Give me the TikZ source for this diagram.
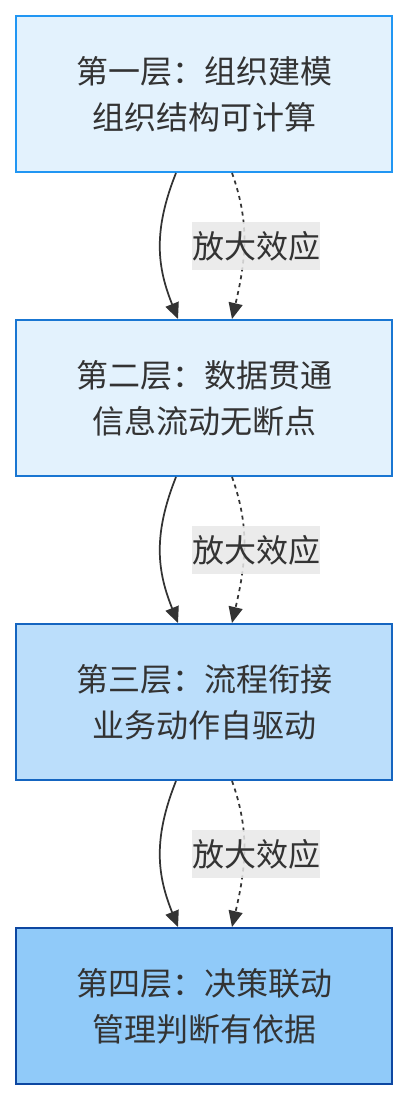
\documentclass[tikz,border=0pt]{standalone}
\usepackage{fontspec}
\setmainfont{Noto Sans CJK SC}
\usetikzlibrary{arrows.meta}

\definecolor{textgray}{HTML}{333333}
\definecolor{labelgray}{HTML}{E8E8E8}

\begin{document}
\begin{tikzpicture}[x=0.75pt,y=0.75pt,yscale=-1,xscale=1,
	layerbox/.style={draw, line width=1.5pt, minimum width=282pt, minimum height=117pt, inner sep=0pt, align=center, text=textgray, font=\fontsize{24}{34.5}\selectfont},
	solidflow/.style={draw=textgray, line width=1.3pt, -{Triangle[length=12pt,width=10.5pt]}},
	dashflow/.style={solidflow, dash pattern=on 3pt off 3pt},
	effectlabel/.style={fill=labelgray, fill opacity=0.85, text opacity=1, text=textgray, inner sep=0pt, minimum width=96pt, minimum height=36pt, font=\fontsize{24}{30}\selectfont}]
	
	\useasboundingbox (0,0) rectangle (408,1100);
	
	% Shape: Ebene 1
	\node [layerbox, fill={rgb, 255:red, 227; green, 242; blue, 253 }, draw={rgb, 255:red, 33; green, 150; blue, 243 }] (l1) at (204,94) {第一层：组织建模\\组织结构可计算};
	
	% Shape: Ebene 2
	\node [layerbox, fill={rgb, 255:red, 227; green, 242; blue, 253 }, draw={rgb, 255:red, 25; green, 118; blue, 210 }] (l2) at (204,398) {第二层：数据贯通\\信息流动无断点};
	
	% Shape: Ebene 3
	\node [layerbox, fill={rgb, 255:red, 187; green, 222; blue, 251 }, draw={rgb, 255:red, 21; green, 101; blue, 192 }] (l3) at (204,702) {第三层：流程衔接\\业务动作自驱动};
	
	% Shape: Ebene 4
	\node [layerbox, fill={rgb, 255:red, 144; green, 202; blue, 249 }, draw={rgb, 255:red, 13; green, 71; blue, 161 }] (l4) at (204,1006) {第四层：决策联动\\管理判断有依据};
	
	% Pfeile 1 -> 2
	\draw [solidflow] ([xshift=-21pt]l1.south) .. controls +(-24,60) and +(-20,-50) .. ([xshift=-19.5pt]l2.north);
	\draw [dashflow] ([xshift=21pt]l1.south) .. controls +(18,50) and +(14,-60) .. ([xshift=21pt]l2.north);
	\node [effectlabel] (e1) at (256,246) {放大效应};
	
	% Pfeile 2 -> 3
	\draw [solidflow] ([xshift=-21pt]l2.south) .. controls +(-24,60) and +(-20,-50) .. ([xshift=-19.5pt]l3.north);
	\draw [dashflow] ([xshift=21pt]l2.south) .. controls +(18,50) and +(14,-60) .. ([xshift=21pt]l3.north);
	\node [effectlabel] (e2) at (256,550) {放大效应};
	
	% Pfeile 3 -> 4
	\draw [solidflow] ([xshift=-21pt]l3.south) .. controls +(-24,60) and +(-20,-50) .. ([xshift=-19.5pt]l4.north);
	\draw [dashflow] ([xshift=21pt]l3.south) .. controls +(18,50) and +(14,-60) .. ([xshift=21pt]l4.north);
	\node [effectlabel] (e3) at (256,854) {放大效应};
	
\end{tikzpicture}
\end{document}
